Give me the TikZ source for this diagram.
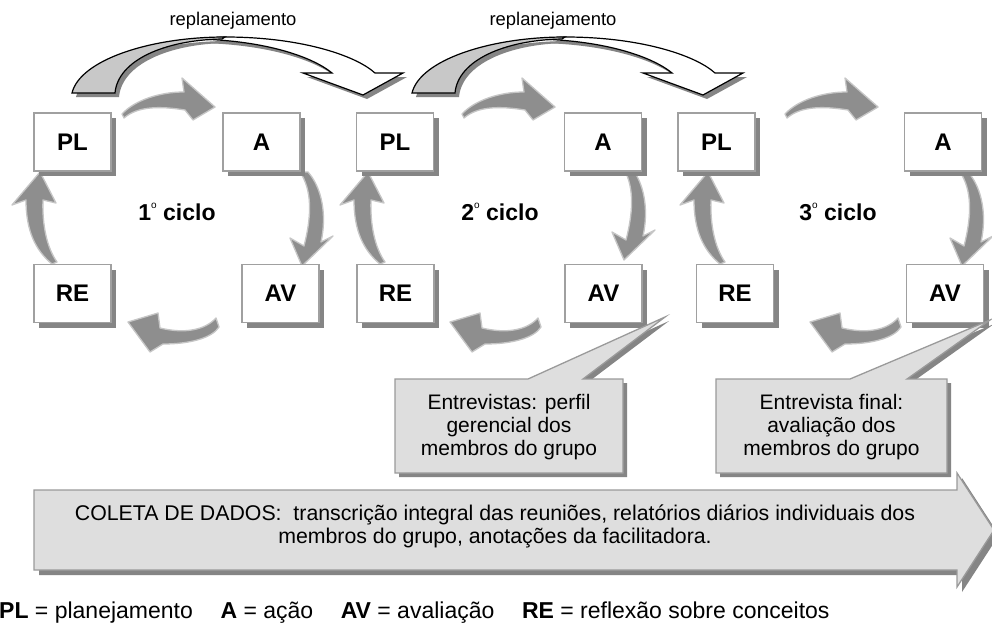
\documentclass[tikz,border=0pt]{standalone}
\usepackage{fontspec}
\setmainfont{Liberation Sans}
\usetikzlibrary{shadows}
\definecolor{boxline}{HTML}{A0A0A0}
\definecolor{shadowgray}{HTML}{858585}
\definecolor{arrowfill}{HTML}{8E8E8E}
\definecolor{arrowedge}{HTML}{C6C6C6}
\definecolor{callfill}{HTML}{DEDEDE}
\definecolor{callline}{HTML}{9A9A9A}
\definecolor{ribbongray}{HTML}{C8C8C8}
\newcommand\cycTop[1]{\path[cyc,shift={(#1,0)}] (122,114) .. controls (135,100) and (160,92) .. (184,92) -- (182,78) -- (215,107) -- (193,120) -- (185,110) .. controls (160,106) and (138,106) .. (124,118) -- cycle;}
\newcommand\cycRight[2]{\path[cyc,shift={(#1,#2)}] (300,172) .. controls (312,190) and (312,215) .. (304,246) -- (290,238) -- (302,266) -- (333,236) -- (321,242) .. controls (327,215) and (322,188) .. (308,172) -- cycle;}
\newcommand\cycBottom[1]{\path[cyc,shift={(#1,0)}] (216,318) .. controls (205,330) and (185,334) .. (160,328) -- (158,313) -- (128,322) -- (150,352) -- (163,344) .. controls (190,344) and (212,338) .. (219,327) -- cycle;}
\newcommand\cycLeft[1]{\path[cyc,shift={(#1,0)}] (52,264) .. controls (35,250) and (26,230) .. (26,200) -- (12,205) -- (40,172) -- (56,203) -- (43,200) .. controls (42,225) and (47,248) .. (57,262) -- cycle;}
\newcommand\ribbonWhite{(225,37) .. controls (300,37) and (355,55) .. (375,73) -- (403,73) -- (363,95) -- (303,73) -- (332,73) .. controls (310,55) and (260,40) .. (195,39) -- cycle}
\newcommand\ribbonGray{(72,93) .. controls (80,60) and (150,37) .. (225,37) -- (222,39) .. controls (165,40) and (118,60) .. (115,93) -- cycle}
\newcommand\replan[1]{%
  \begin{scope}[shift={(#1,0)}]
    \fill[shadowgray,shift={(4,4)}] \ribbonWhite;
    \fill[shadowgray,shift={(4,4)}] \ribbonGray;
    \path[ribbon,fill=white] \ribbonWhite;
    \path[ribbon,fill=ribbongray] \ribbonGray;
  \end{scope}}
\newcommand\ordo{\raisebox{0.55em}{\fontsize{10}{10}\selectfont\mdseries o}}
\begin{document}
\begin{tikzpicture}[x=1pt,y=-1pt,
  stepbox/.style={draw=boxline, line width=1.6pt, fill=white, minimum width=77pt, minimum height=58pt, inner sep=0pt,
    font=\fontsize{24}{26}\selectfont\bfseries,
    drop shadow={shadow xshift=5pt, shadow yshift=-5pt, fill=shadowgray, opacity=1}},
  cyc/.style={fill=arrowfill, draw=arrowedge, line width=1.3pt, line join=round},
  ribbon/.style={draw=black, line width=1.2pt, line join=miter},
  ciclo/.style={font=\fontsize{23}{26}\selectfont\bfseries},
  reptext/.style={font=\fontsize{18.4}{20}\selectfont},
  calltext/.style={font=\fontsize{21}{23}\selectfont, align=center},
  callbox/.style={fill=callfill, draw=callline, line width=1.3pt, line join=miter}]
\useasboundingbox (0,0) rectangle (992,626);
\fill[white] (0,0) rectangle (992,626);

% replanning ribbons
\replan{0}
\replan{340}
\node[reptext] (rp1) at (233,21) {replanejamento};
\node[reptext] (rp2) at (553,21) {replanejamento};

% cycle arrows
\cycTop{0}\cycTop{340}\cycTop{663}
\cycRight{0}{0}\cycRight{322}{-6}\cycRight{660}{0}
\cycBottom{0}\cycBottom{322}\cycBottom{682}
\cycLeft{0}\cycLeft{328}\cycLeft{668}

% boxes
\node[stepbox] (pl1) at (72.5,142) {PL};
\node[stepbox] (a1)  at (261.5,142) {A};
\node[stepbox] (re1) at (72.5,293.5) {RE};
\node[stepbox] (av1) at (280.5,293.5) {AV};
\node[stepbox] (pl2) at (395,142) {PL};
\node[stepbox] (a2)  at (603,142) {A};
\node[stepbox] (re2) at (395.5,293.5) {RE};
\node[stepbox] (av2) at (603.5,293.5) {AV};
\node[stepbox] (pl3) at (716.5,142) {PL};
\node[stepbox] (a3)  at (943,142) {A};
\node[stepbox] (re3) at (735,293.5) {RE};
\node[stepbox] (av3) at (945,293.5) {AV};

% cycle labels
\node[ciclo] (c1) at (177,212) {1\ordo\ ciclo};
\node[ciclo] (c2) at (500,212) {2\ordo\ ciclo};
\node[ciclo] (c3) at (838,212) {3\ordo\ ciclo};

% callouts
\fill[shadowgray,shift={(4,4)}] (395,379) -- (528,379) -- (665,317) -- (583,379) -- (623,379) -- (623,473) -- (395,473) -- cycle;
\path[callbox] (395,379) -- (528,379) -- (665,317) -- (583,379) -- (623,379) -- (623,473) -- (395,473) -- cycle;
\node[calltext] (call1) at (509,427) {Entrevistas: perfil\\gerencial dos\\membros do grupo};
\fill[shadowgray,shift={(4,4)}] (716,379) -- (850,379) -- (990,320) -- (907,379) -- (947,379) -- (947,473) -- (716,473) -- cycle;
\path[callbox] (716,379) -- (850,379) -- (990,320) -- (907,379) -- (947,379) -- (947,473) -- (716,473) -- cycle;
\node[calltext] (call2) at (831.5,427) {Entrevista final:\\avaliação dos\\membros do grupo};

% data collection arrow
\fill[shadowgray,shift={(5,5)}] (34,490) -- (957,490) -- (957,473) -- (994,530) -- (957,587) -- (957,570) -- (34,570) -- cycle;
\path[callbox] (34,490) -- (957,490) -- (957,473) -- (994,530) -- (957,587) -- (957,570) -- (34,570) -- cycle;
\node[font=\fontsize{21.3}{23}\selectfont, align=center] (coleta) at (495,526)
  {COLETA DE DADOS:\ \ transcrição integral das reuniões, relatórios diários individuais dos\\membros do grupo, anotações da facilitadora.};

% legend
\node[anchor=base west, inner sep=0pt, font=\fontsize{23}{26}\selectfont] (legend) at (-1,618)
  {\textbf{PL} = planejamento\hspace{1.2em}\textbf{A} = ação\hspace{1.2em}\textbf{AV} = avaliação\hspace{1.2em}\textbf{RE} = reflexão sobre conceitos};
\end{tikzpicture}
\end{document}
